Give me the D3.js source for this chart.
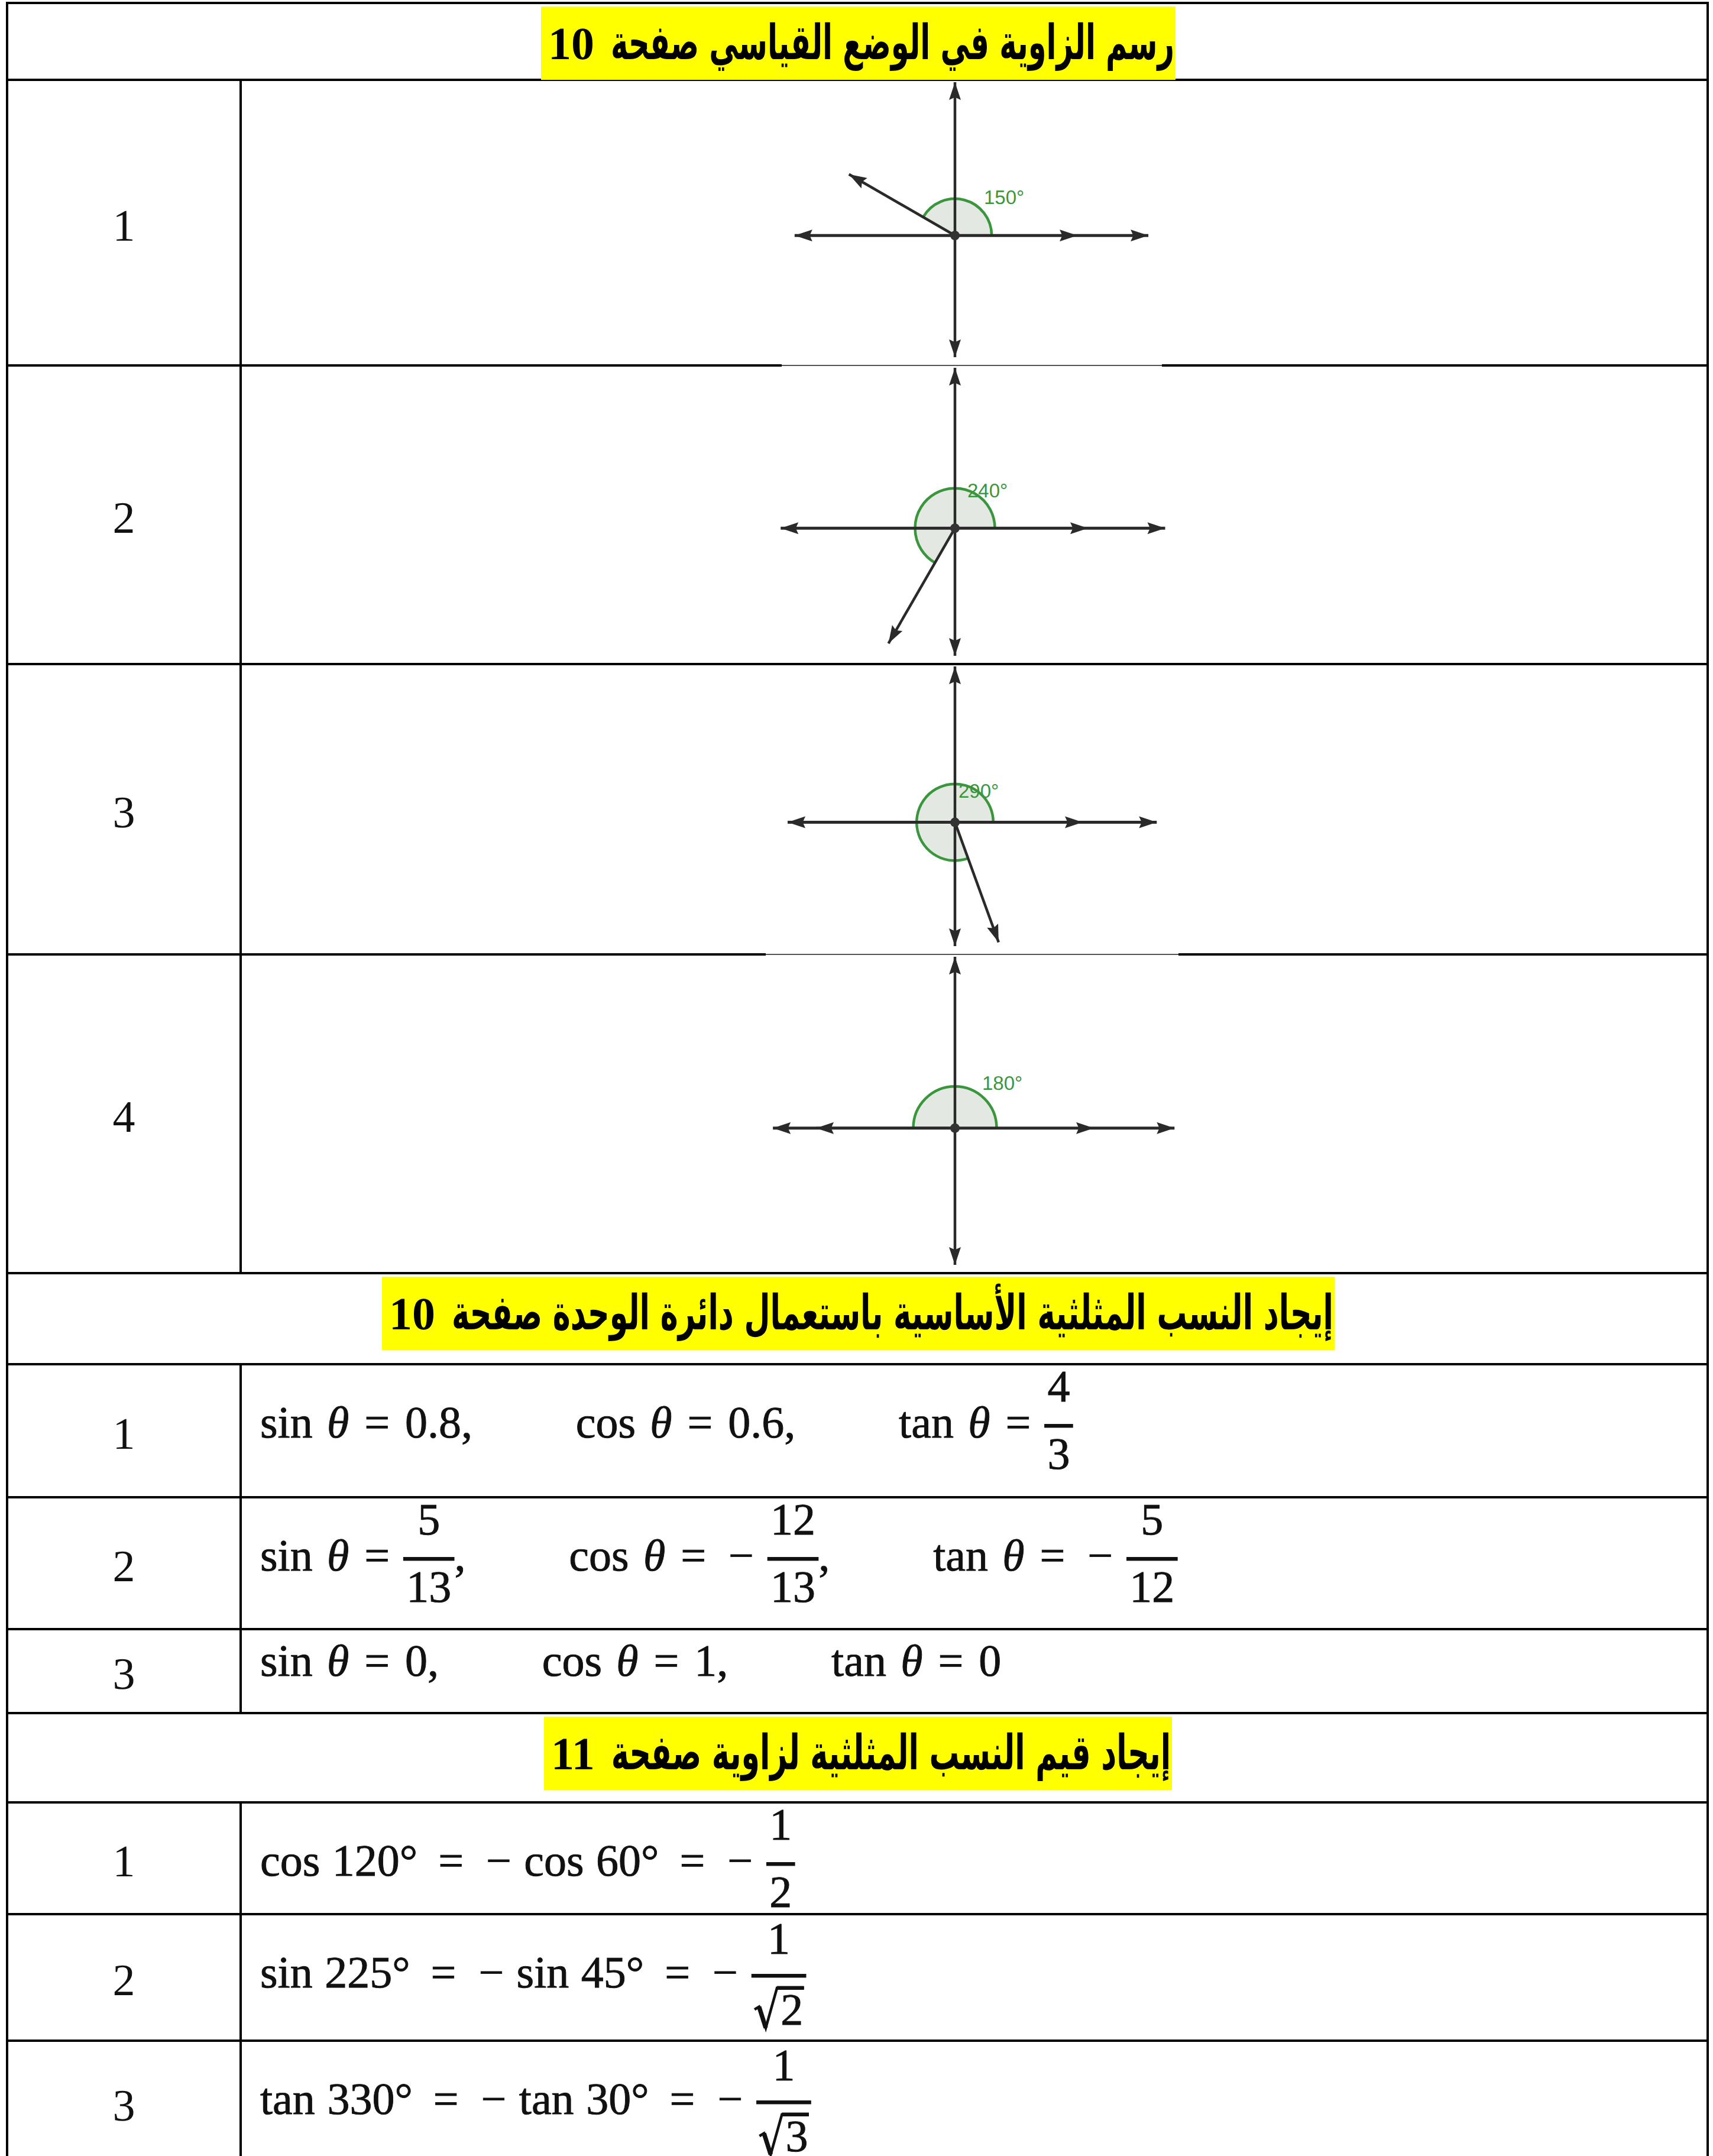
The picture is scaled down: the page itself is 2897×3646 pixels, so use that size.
<!DOCTYPE html>
<html>
<head>
<meta charset="utf-8">
<script src="https://cdn.jsdelivr.net/npm/d3@7"></script>
<style>
  html, body { margin: 0; padding: 0; background: #fff; }
  svg { display: block; }
</style>
</head>
<body>
<div id="page"></div>
<script>
// ---- data ----
const titles = [
  "رسم الزاوية في الوضع القياسي صفحة",
  "إيجاد النسب المثلثية الأساسية باستعمال دائرة الوحدة صفحة",
  "إيجاد قيم النسب المثلثية لزاوية صفحة"
];
const titlePages = ["10", "10", "11"];

// section 1: angles drawn in standard position (degrees)
const angles = [150, 240, 290, 180];

// section 2: sin, cos, tan from the unit circle
const trigNames = ["sin", "cos", "tan"];
const unitValues = [
  ["0.8", "0.6", "4/3"],
  ["5/13", "-12/13", "-5/12"],
  ["0", "1", "0"]
];

// section 3: reference angles
const refFn = ["cos", "sin", "tan"];
const refAngle = [120, 225, 330];
const refRelated = [60, 45, 30];
const refValue = ["-1/2", "-1/√2", "-1/√3"];

// ---- layout ----
const W = 2897, H = 3646;
const X0 = 12, XC = 407, X1 = 2888;
const rowH = [130, 483, 505, 491, 539, 154, 225, 223, 142, 151, 189, 214, 209];
const rowY = [5];
rowH.forEach(h => rowY.push(rowY[rowY.length - 1] + h));
const titleSpan = [[915, 1988], [646, 2257], [920, 1982]];
const diagL = [207, 225, 216, 235];
const labelOff = [[49, -65], [21, -64], [6, -53], [46, -76]];
const OX = 1615;
const F = 76;           // math font size
const MATH = "'Liberation Serif','Times New Roman',serif";

const svg = d3.select("#page").append("svg")
  .attr("width", W).attr("height", H)
  .style("text-rendering", "geometricPrecision");
svg.append("rect").attr("width", W).attr("height", H).attr("fill", "#fff");

const measurer = svg.append("text").attr("visibility", "hidden").attr("x", 0).attr("y", -100);
function textWidth(s, size, family, style, weight) {
  measurer.attr("font-family", family).attr("font-size", size)
    .attr("font-style", style || "normal").attr("font-weight", weight || "normal")
    .text(s);
  return measurer.node().getComputedTextLength();
}

// build the list of rows
const rows = [];
function addTitle(i) { rows.push({ kind: "title", i }); }
addTitle(0);
angles.forEach((a, i) => rows.push({ kind: "angle", i, label: String(i + 1) }));
addTitle(1);
unitValues.forEach((v, i) => rows.push({ kind: "unit", i, label: String(i + 1) }));
addTitle(2);
refFn.forEach((f, i) => rows.push({ kind: "ref", i, label: String(i + 1) }));
rows.forEach((r, k) => { r.top = rowY[k]; r.bot = rowY[k + 1]; });

// ---- table grid ----
const grid = svg.append("g").attr("stroke", "#000").attr("stroke-width", 4);
rowY.forEach(y => grid.append("line").attr("x1", X0 - 2).attr("x2", X1 + 2).attr("y1", y).attr("y2", y));
grid.append("line").attr("x1", X0).attr("x2", X0).attr("y1", rowY[0] - 2).attr("y2", H);
grid.append("line").attr("x1", X1).attr("x2", X1).attr("y1", rowY[0] - 2).attr("y2", H);
rows.filter(r => r.kind !== "title").forEach(r =>
  grid.append("line").attr("x1", XC).attr("x2", XC).attr("y1", r.top).attr("y2", r.bot));

// pasted diagram pictures sit over parts of the row lines (lighter there)
[[rowY[2], 1322, 1965], [rowY[4], 1295, 1993]].forEach(([yy, a, b]) => {
  svg.append("rect").attr("x", a).attr("y", yy - 3).attr("width", b - a).attr("height", 6).attr("fill", "#fff");
  svg.append("line").attr("x1", a).attr("x2", b).attr("y1", yy).attr("y2", yy)
    .attr("stroke", "#555").attr("stroke-width", 2);
});

// ---- row number labels ----
svg.append("g").selectAll("text").data(rows.filter(r => r.kind !== "title")).join("text")
  .attr("x", (X0 + XC) / 2)
  .attr("y", d => (d.top + d.bot) / 2 + 30)
  .attr("text-anchor", "middle")
  .attr("font-family", MATH)
  .attr("font-size", 76)
  .attr("fill", "#111")
  .text(d => d.label);

// ---- section titles ----
rows.filter(r => r.kind === "title").forEach(r => {
  const [sx0, sx1] = titleSpan[r.i];
  const g = svg.append("g");
  const base = r.top + 95;
  g.append("rect").attr("x", sx0).attr("y", r.top + 6).attr("width", sx1 - sx0).attr("height", 124)
    .attr("fill", "#ffff00");
  const numFamily = "'Liberation Serif','Times New Roman',serif";
  const numW = textWidth(titlePages[r.i], 78, numFamily, "normal", "bold");
  g.append("text").attr("x", sx0 + 12).attr("y", base)
    .attr("font-family", numFamily).attr("font-weight", "bold").attr("font-size", 78)
    .text(titlePages[r.i]);
  const arFamily = "'DejaVu Sans',sans-serif";
  const arW = textWidth(titles[r.i], 82, arFamily, "normal", "bold");
  const left = sx0 + 12 + numW + 28, right = sx1 - 2;
  const s = (right - left) / arW;
  g.append("text")
    .attr("transform", `translate(${(left + right) / 2},${base}) scale(${s},1)`)
    .attr("text-anchor", "middle")
    .attr("direction", "rtl")
    .attr("font-family", arFamily).attr("font-weight", "bold").attr("font-size", 82)
    .text(titles[r.i]);
});

// ---- angle diagrams ----
const INK = "#2a2a2a";
function arrowHead(g, tx, ty, dir) {
  const len = 30, hw = 10;
  const c = Math.cos(dir), s = Math.sin(dir);
  const bx = tx - len * c, by = ty - len * s;
  g.append("path")
    .attr("d", `M${tx},${ty}L${bx - hw * s},${by + hw * c}L${bx + len * 0.15 * c},${by + len * 0.15 * s}L${bx + hw * s},${by - hw * c}Z`)
    .attr("fill", INK);
}

rows.filter(r => r.kind === "angle").forEach(r => {
  const a = angles[r.i] * Math.PI / 180;
  const L = diagL[r.i];
  const oy = r.top + 0.545 * (r.bot - r.top);
  const x = d3.scaleLinear().domain([0, 1]).range([OX, OX + L]);
  const y = d3.scaleLinear().domain([0, 1]).range([oy, oy - L]);
  const rad = 0.3 * L;
  const g = svg.append("g");

  // shaded sector and green arc
  g.append("path")
    .attr("transform", `translate(${OX},${oy})`)
    .attr("d", d3.arc().innerRadius(0).outerRadius(rad).startAngle(Math.PI / 2 - a).endAngle(Math.PI / 2)())
    .attr("fill", "#e3e9e2");
  const p = d3.path();
  p.moveTo(OX + rad, oy);
  p.arc(OX, oy, rad, 0, -a, true);
  g.append("path").attr("d", p.toString()).attr("fill", "none")
    .attr("stroke", "#3a963c").attr("stroke-width", 4.5);

  // axes
  const top = r.top + 4, bot = r.bot - 14;
  const xl = x(-1.31), xr = x(1.58);
  g.append("line").attr("x1", xl).attr("x2", xr).attr("y1", oy).attr("y2", oy)
    .attr("stroke", INK).attr("stroke-width", 5);
  g.append("line").attr("x1", OX).attr("x2", OX).attr("y1", top).attr("y2", bot)
    .attr("stroke", INK).attr("stroke-width", 4.5);
  arrowHead(g, xl, oy, Math.PI);
  arrowHead(g, xr, oy, 0);
  arrowHead(g, OX, top, -Math.PI / 2);
  arrowHead(g, OX, bot, Math.PI / 2);
  // initial side
  arrowHead(g, x(1), oy, 0);

  // terminal side
  const tx = x(Math.cos(a)), ty = y(Math.sin(a));
  g.append("line").attr("x1", OX).attr("y1", oy).attr("x2", tx).attr("y2", ty)
    .attr("stroke", INK).attr("stroke-width", 4.5);
  arrowHead(g, tx, ty, Math.atan2(ty - oy, tx - OX));

  g.append("circle").attr("cx", OX).attr("cy", oy).attr("r", 8).attr("fill", "#333");

  g.append("text")
    .attr("x", OX + labelOff[r.i][0]).attr("y", oy + labelOff[r.i][1])
    .attr("dominant-baseline", "central")
    .attr("font-family", "'Liberation Sans',Arial,sans-serif")
    .attr("font-size", 33)
    .attr("fill", "#3a963c")
    .text(angles[r.i] + "°");
});

// ---- formulas ----
function valueTokens(v) {
  const out = [];
  if (v[0] === "-") { out.push({ t: "op", s: "−" }); v = v.slice(1); }
  if (v.includes("/")) {
    const [n, d] = v.split("/");
    out.push({ t: "frac", n, d: d.replace("√", ""), sqrt: d[0] === "√" });
  } else out.push({ t: "num", s: v });
  return out;
}
function unitTokens(vals) {
  const toks = [];
  vals.forEach((v, i) => {
    if (i) toks.push({ t: "quad" });
    toks.push({ t: "fn", s: trigNames[i] }, { t: "var", s: "θ" }, { t: "rel", s: "=" });
    toks.push(...valueTokens(v));
    if (i < vals.length - 1) toks.push({ t: "punct", s: "," });
  });
  return toks;
}
function refTokens(i) {
  return [
    { t: "fn", s: refFn[i] }, { t: "num", s: refAngle[i] + "°" }, { t: "rel", s: "=" },
    { t: "op", s: "−" }, { t: "fn", s: refFn[i] }, { t: "num", s: refRelated[i] + "°" },
    { t: "rel", s: "=" }, ...valueTokens(refValue[i])
  ];
}

// spacing between neighbouring tokens, in em
function gapEm(p, c) {
  if (!p || c.t === "quad") return 0;
  if (p.t === "quad") return 2.3;
  let g = (p.t === "num" && p.s.endsWith("°")) ? 0.12 : 0;
  if (p.t === "rel" && c.t === "op") return g + 0.5;
  if (p.t === "rel" && c.t === "frac") return g + 0.3;
  if (p.t === "rel" || c.t === "rel") return g + 0.34;
  if (p.t === "fn") return g + (c.t === "var" ? 0.32 : 0.27);
  if (p.t === "op") return g + (c.t === "frac" ? 0.3 : 0.28);
  return g;
}

function drawFrac(g, tok, x, base) {
  const numW = textWidth(tok.n, F, MATH);
  const digW = textWidth(tok.d, F, MATH);
  const radW = tok.sqrt ? 0.58 * F : 0;
  const denW = digW + radW;
  const pad = 0.07 * F;
  const w = Math.max(numW, denW) + 2 * pad;
  const barY = base - 0.26 * F;
  g.append("rect").attr("x", x).attr("y", barY - 3.2).attr("width", w).attr("height", 6.4)
    .attr("fill", "#111").attr("stroke", "none");
  g.append("text").attr("x", x + w / 2).attr("y", barY - (tok.sqrt ? 0.49 : 0.54) * F)
    .attr("text-anchor", "middle").text(tok.n);
  const dl = x + (w - denW) / 2;
  const db = barY + (tok.sqrt ? 1.09 : 0.96) * F;
  g.append("text").attr("x", dl + radW).attr("y", db).text(tok.d);
  if (tok.sqrt) {
    const ov = db - 0.82 * F;
    g.append("path")
      .attr("d", `M${dl},${db - 0.34 * F}L${dl + 0.1 * F},${db - 0.4 * F}L${dl + 0.25 * F},${db + 0.07 * F}L${dl + 0.5 * F},${ov}H${dl + radW + digW + 0.02 * F}`)
      .attr("fill", "none").attr("stroke", "#111").attr("stroke-width", 4.5)
      .attr("stroke-linejoin", "miter");
    g.append("path")
      .attr("d", `M${dl + 0.1 * F},${db - 0.4 * F}L${dl + 0.25 * F},${db + 0.07 * F}`)
      .attr("stroke", "#111").attr("stroke-width", 7.5);
    g.append("rect").attr("x", dl + 0.5 * F).attr("y", ov - 3.2).attr("width", radW + digW + 0.02 * F - 0.5 * F)
      .attr("height", 6.4).attr("fill", "#111").attr("stroke", "none");
  }
  return w;
}

function drawFormula(tokens, x, base) {
  const g = svg.append("g").attr("font-family", MATH).attr("font-size", F)
    .attr("fill", "#111").attr("stroke", "#111").attr("stroke-width", 0.9);
  let prev = null;
  tokens.forEach(tok => {
    x += gapEm(prev, tok) * F;
    if (tok.t === "frac") {
      x += drawFrac(g, tok, x, base);
    } else if (tok.t !== "quad") {
      const style = tok.t === "var" ? "italic" : "normal";
      g.append("text").attr("x", x).attr("y", base).attr("font-style", style).text(tok.s);
      x += textWidth(tok.s, F, MATH, style);
    }
    prev = tok;
  });
}

rows.filter(r => r.kind === "unit" || r.kind === "ref").forEach(r => {
  const toks = r.kind === "unit" ? unitTokens(unitValues[r.i]) : refTokens(r.i);
  const hasFrac = toks.some(t => t.t === "frac");
  const base = r.top + (hasFrac ? 124 : 79);
  drawFormula(toks, 440, base);
});
</script>
</body>
</html>
